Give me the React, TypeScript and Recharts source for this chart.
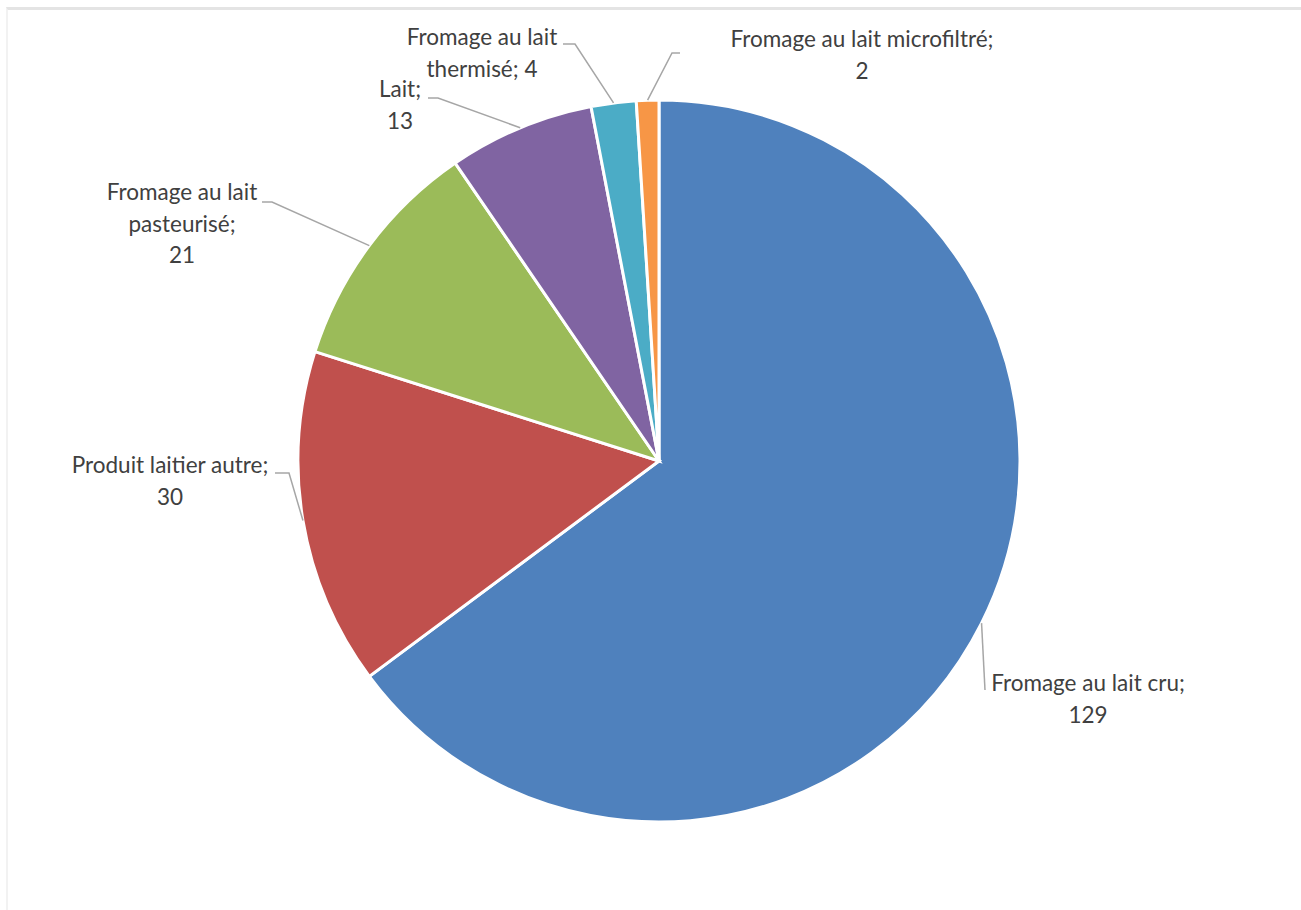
import React from 'react';
import { PieChart, Pie, Cell } from 'recharts';

const categories = [
  'Fromage au lait cru',
  'Produit laitier autre',
  'Fromage au lait pasteurisé',
  'Lait',
  'Fromage au lait thermisé',
  'Fromage au lait microfiltré',
];
const counts = [129, 30, 21, 13, 4, 2];
const colors = ['#4F81BD', '#C0504D', '#9BBB59', '#8064A2', '#4BACC6', '#F79646'];

// how each label is broken into lines (Excel wraps them this way)
const labelLines = [
  ['Fromage au lait cru;', '129'],
  ['Produit laitier autre;', '30'],
  ['Fromage au lait', 'pasteurisé;', '21'],
  ['Lait;', '13'],
  ['Fromage au lait', 'thermisé; 4'],
  ['Fromage au lait microfiltré;', '2'],
];

// label layout: elbow of the leader line, end of the leader line, text centre and first baseline
const labelLayout = [
  { elbow: [985, 690], end: [985, 690], tx: 1088, ty: 691 },
  { elbow: [289, 473], end: [275, 473], tx: 170, ty: 473 },
  { elbow: [272, 202], end: [262, 202], tx: 182, ty: 200 },
  { elbow: [438, 98], end: [428, 98], tx: 400, ty: 97 },
  { elbow: [575, 44], end: [563, 44], tx: 482, ty: 45 },
  { elbow: [672, 53], end: [680, 53], tx: 862, ty: 47 },
];

const data = categories.map((name, i) => ({ name, value: counts[i] }));

const RAD = Math.PI / 180;

const renderLabel = (props: any) => {
  const { cx, cy, midAngle, outerRadius, index } = props;
  const sx = cx + outerRadius * Math.cos(-midAngle * RAD);
  const sy = cy + outerRadius * Math.sin(-midAngle * RAD);
  const lay = labelLayout[index];
  const lines = labelLines[index];
  return (
    <g key={`lbl-${index}`}>
      <polyline
        points={`${sx},${sy} ${lay.elbow[0]},${lay.elbow[1]} ${lay.end[0]},${lay.end[1]}`}
        fill="none"
        stroke="#a6a6a6"
        strokeWidth={1.5}
      />
      <text
        x={lay.tx}
        y={lay.ty}
        textAnchor="middle"
        fill="#404040"
        fontSize={22.5}
        fontFamily="Lato, 'Open Sans', sans-serif"
      >
        {lines.map((l, k) => (
          <tspan key={k} x={lay.tx} dy={k === 0 ? 0 : 31.5}>
            {l}
          </tspan>
        ))}
      </text>
    </g>
  );
};

export default function App() {
  return (
    <div style={{ position: 'absolute', left: 0, top: 0, width: 1301, height: 910, background: '#fff' }}>
      <div
        style={{
          position: 'absolute',
          left: 6,
          top: 7,
          width: 1295,
          height: 903,
          borderTop: '3px solid #e4e4e4',
          borderLeft: '2px solid #f2f2f2',
          boxSizing: 'border-box',
        }}
      />
      <div style={{ position: 'absolute', left: 0, top: 0 }}>
        <PieChart width={1301} height={910} margin={{ top: 0, right: 0, bottom: 0, left: 0 }}>
          <Pie
            data={data}
            dataKey="value"
            nameKey="name"
            cx={659}
            cy={461}
            outerRadius={361}
            startAngle={90}
            endAngle={-270}
            stroke="#ffffff"
            strokeWidth={3}
            label={renderLabel}
            labelLine={false}
            isAnimationActive={false}
          >
            {data.map((d, i) => (
              <Cell key={d.name} fill={colors[i]} />
            ))}
          </Pie>
        </PieChart>
      </div>
    </div>
  );
}
